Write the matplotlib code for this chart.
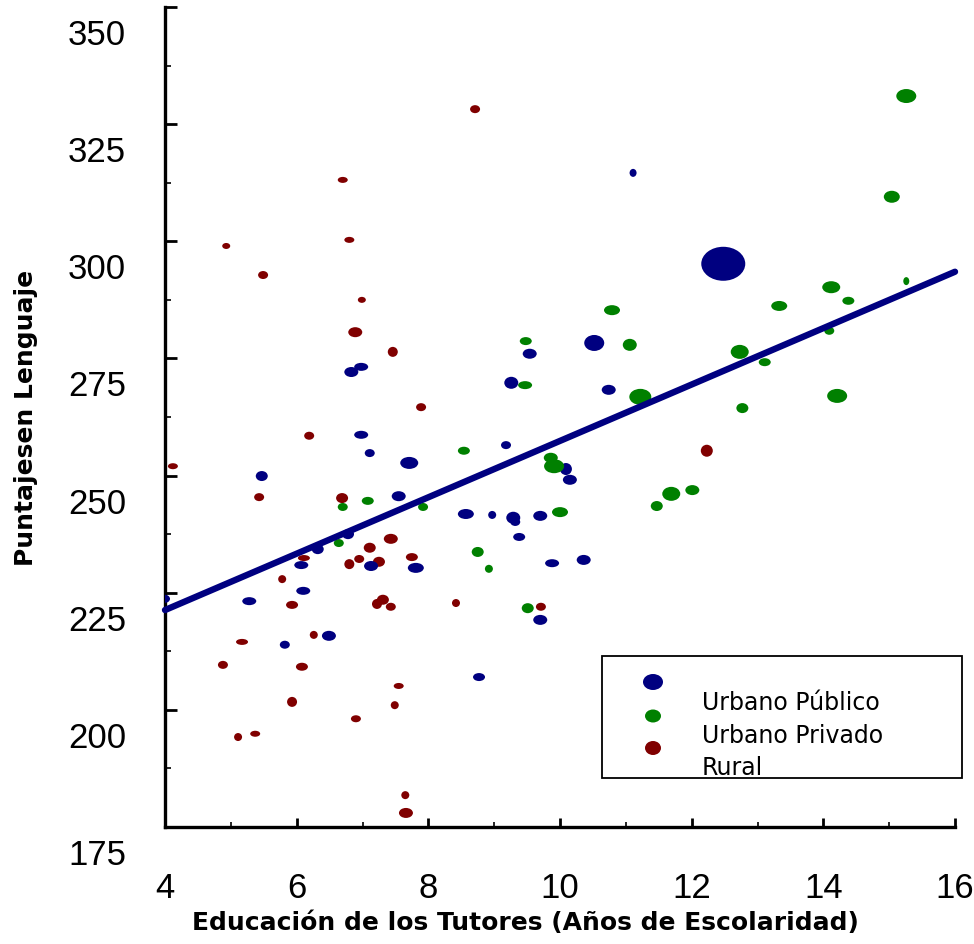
import matplotlib
matplotlib.use("Agg")
import matplotlib.pyplot as plt
import numpy as np
from matplotlib.collections import EllipseCollection
from matplotlib.patches import Rectangle, Ellipse
from matplotlib.transforms import ScaledTranslation

plt.rcParams['font.family'] = ['Liberation Sans', 'DejaVu Sans']

# ---------------- data ----------------
series_names = ["Urbano Público", "Urbano Privado", "Rural"]
series_colors = ["#000080", "#008000", "#800000"]

# Urbano Público
pub_x = [4.00, 5.28, 5.47, 6.07, 6.10, 6.32, 5.82, 6.49, 6.83, 6.98, 6.98, 7.11, 7.71, 7.55, 6.78,
         7.13, 7.81, 9.26, 9.54, 10.52, 10.74, 9.18, 10.09, 10.15, 8.57, 8.97, 9.29, 9.32, 9.70,
         9.38, 9.88, 10.36, 9.70, 11.11, 12.48, 8.77]
pub_y = [223.7, 223.2, 249.9, 230.9, 225.4, 234.3, 213.9, 215.8, 272.1, 273.2, 258.7, 254.8, 252.7,
         245.6, 237.5, 230.7, 230.3, 269.8, 276.0, 278.3, 268.3, 256.5, 251.4, 249.1, 241.8, 241.6,
         241.0, 240.1, 241.4, 236.9, 231.3, 232.0, 219.2, 314.6, 295.2, 207.0]
pub_w = [10, 14, 12, 14, 14, 12, 10, 14, 14, 14, 14, 10, 18, 14, 12, 14, 16, 14, 14, 20, 14, 10, 12,
         14, 16, 8, 14, 10, 14, 12, 14, 14, 14, 7, 44, 12]
pub_h = [8, 8, 10, 8, 8, 10, 8, 10, 10, 8, 8, 8, 12, 10, 10, 10, 10, 12, 10, 16, 10, 8, 12, 10, 10,
         8, 12, 8, 10, 8, 8, 10, 10, 8, 34, 8]

# Urbano Privado
pri_x = [15.26, 15.04, 14.12, 14.38, 15.26, 13.33, 10.79, 9.48, 11.06, 14.09, 12.73, 13.11, 9.47,
         11.22, 12.77, 14.21, 8.54, 9.86, 9.91, 11.69, 12.01, 11.47, 10.00, 7.08, 6.70, 7.92, 8.75,
         8.92, 9.51, 6.64]
pri_y = [331.0, 309.5, 290.2, 287.3, 291.5, 286.2, 285.3, 278.7, 277.9, 280.9, 276.4, 274.2, 269.3,
         266.8, 264.4, 267.0, 255.3, 253.8, 252.0, 246.1, 246.9, 243.5, 242.2, 244.6, 243.3, 243.3,
         233.7, 230.1, 221.7, 235.6]
pri_w = [20, 16, 18, 12, 6, 16, 16, 12, 14, 10, 18, 12, 14, 22, 12, 20, 12, 14, 20, 18, 14, 12, 16,
         12, 10, 10, 12, 8, 12, 10]
pri_h = [14, 12, 12, 8, 8, 10, 10, 8, 12, 8, 14, 8, 8, 16, 10, 14, 8, 10, 14, 14, 10, 10, 10, 8, 8,
         8, 10, 8, 10, 8]

# Rural
rur_x = [4.12, 4.93, 5.49, 6.70, 6.80, 6.99, 8.71, 6.89, 7.46, 7.89, 6.19, 5.43, 6.69, 7.43, 7.11,
         6.95, 6.80, 7.25, 7.75, 6.11, 5.78, 5.93, 7.31, 7.22, 7.43, 6.26, 5.17, 4.88, 6.08, 5.93,
         5.11, 5.37, 6.90, 7.49, 7.55, 7.65, 7.66, 8.42, 9.71, 12.23]
rur_y = [252.0, 299.0, 292.8, 313.1, 300.3, 287.5, 328.2, 280.6, 276.4, 264.6, 258.5, 245.4, 245.2,
         236.5, 234.6, 232.2, 231.1, 231.6, 232.6, 232.4, 227.9, 222.4, 223.5, 222.6, 222.0, 216.0,
         214.5, 209.6, 209.2, 201.7, 194.2, 194.9, 198.1, 201.0, 205.1, 181.8, 178.0, 222.8, 222.0,
         255.3]
rur_w = [10, 8, 10, 10, 10, 8, 10, 14, 10, 10, 10, 10, 12, 14, 12, 10, 10, 12, 12, 12, 8, 12, 12, 10,
         10, 8, 12, 10, 12, 10, 8, 10, 10, 8, 10, 8, 14, 8, 10, 12]
rur_h = [6, 6, 8, 6, 6, 6, 8, 10, 10, 8, 8, 8, 10, 10, 10, 8, 10, 10, 8, 6, 8, 8, 10, 10, 8, 8, 6, 8,
         8, 10, 8, 6, 7, 8, 6, 8, 10, 8, 8, 12]

# regression line
fit_x = [4.0, 16.0]
fit_y = [221.3, 293.5]

x_ticks = [4, 6, 8, 10, 12, 14, 16]
y_ticks = [175, 200, 225, 250, 275, 300, 325, 350]
x_label = "Educación de los Tutores (Años de Escolaridad)"
y_label = "Puntajesen Lenguaje"

# ---------------- figure ----------------
W, H = 974, 945
fig = plt.figure(figsize=(W / 100, H / 100), dpi=100)
ax = fig.add_axes([165 / W, (H - 828) / H, 790 / W, 820 / H])
ax.set_xlim(4, 16)
ax.set_ylim(175, 350)

def add_group(xs, ys, ws, hs, color, z):
    ec = EllipseCollection(ws, hs, np.zeros(len(ws)), units='dots',
                           offsets=np.column_stack([xs, ys]),
                           offset_transform=ax.transData,
                           facecolors=color, edgecolors='none', zorder=z)
    ax.add_collection(ec)

add_group(rur_x, rur_y, rur_w, rur_h, series_colors[2], 2)
add_group(pub_x, pub_y, pub_w, pub_h, series_colors[0], 3)
add_group(pri_x, pri_y, pri_w, pri_h, series_colors[1], 4)

ax.plot(fit_x, fit_y, color="#000080", lw=4.6, solid_capstyle='round', zorder=5, clip_on=False)

# spines & ticks
for s in ['top', 'right']:
    ax.spines[s].set_visible(False)
for s in ['left', 'bottom']:
    ax.spines[s].set_linewidth(2.4)
    ax.spines[s].set_color('black')

ax.set_xticks(x_ticks)
ax.set_xticks(np.arange(5, 16, 2), minor=True)
ax.set_yticks(y_ticks)
ax.set_yticks(np.arange(187.5, 350, 25), minor=True)
ax.set_xticklabels([str(v) for v in x_ticks])
ax.set_yticklabels([str(v) for v in y_ticks])

ax.tick_params(axis='y', which='major', direction='in', length=8.5, width=2.0, pad=28,
               labelsize=25, colors='black')
ax.tick_params(axis='y', which='minor', direction='in', length=4.5, width=1.2)
ax.tick_params(axis='x', which='major', direction='in', length=6.5, width=2.0, pad=32,
               labelsize=25, colors='black')
ax.tick_params(axis='x', which='minor', direction='in', length=3.5, width=1.2)

off = ScaledTranslation(0, -0.24, fig.dpi_scale_trans)
for lab in ax.get_yticklabels():
    lab.set_transform(lab.get_transform() + off)

ax.set_xlabel(x_label, fontsize=18, fontweight='bold', family='DejaVu Sans')
ax.xaxis.set_label_coords((525 - 165) / 790, (828 - 930) / 820)
ax.xaxis.label.set_verticalalignment('baseline')
ax.set_ylabel(y_label, fontsize=18, fontweight='bold', family='DejaVu Sans')
ax.yaxis.set_label_coords((38 - 165) / 790, 0.5)

# ---------------- legend (manual) ----------------
ft = fig.transFigure
fig.patches.append(Rectangle((602 / W, (H - 779) / H), 360 / W, 122 / H, transform=ft,
                             facecolor='white', edgecolor='black', lw=1.3, zorder=6))
leg_marker_y = [683, 717, 749]
leg_marker_wh = [(20, 16), (16, 13), (16, 14)]
leg_text_y = [710, 743, 775]
for name, col, my, (mw, mh), ty in zip(series_names, series_colors, leg_marker_y,
                                       leg_marker_wh, leg_text_y):
    fig.patches.append(Ellipse((653 / W, (H - my) / H), mw / W, mh / H, transform=ft,
                               facecolor=col, edgecolor='none', zorder=7))
    fig.text(702 / W, (H - ty) / H, name, fontsize=17, family='DejaVu Sans',
             ha='left', va='baseline', zorder=8)

fig.savefig("out.png", dpi=100)
